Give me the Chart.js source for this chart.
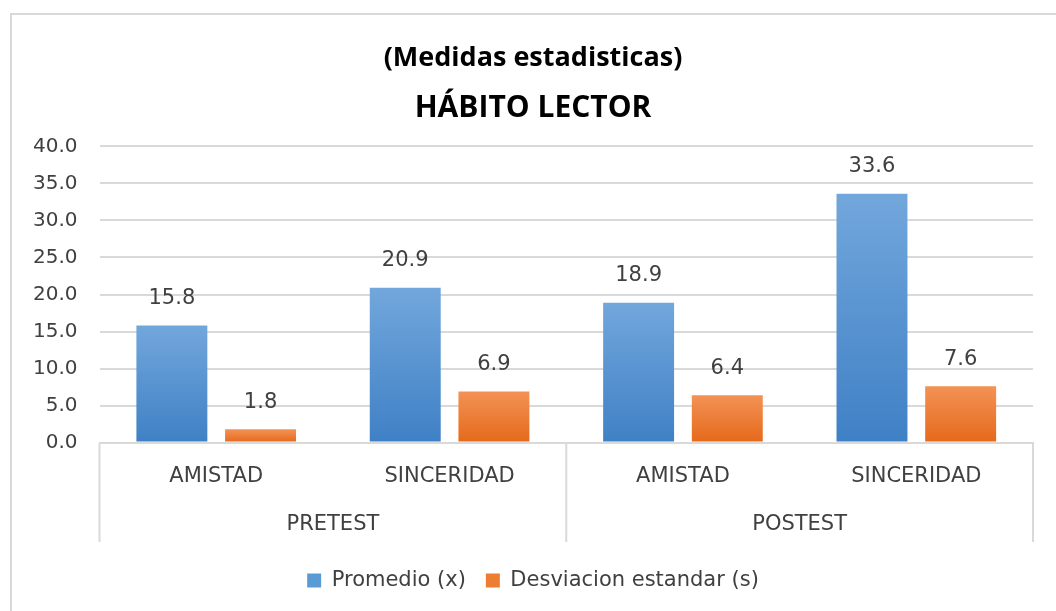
<!DOCTYPE html>
<html>
<head>
<meta charset="utf-8">
<script src="https://cdn.jsdelivr.net/npm/chart.js@4.4.1/dist/chart.umd.min.js"></script>
<style>
  html, body { margin:0; padding:0; background:#fff; }
  #frame { position:absolute; left:10px; top:13px; width:1100px; height:700px; border-top:2px solid #d9d9d9; border-left:2px solid #d9d9d9; }
  #wrap { position:absolute; left:0; top:0; width:1056px; height:611px; }
</style>
</head>
<body>
<div id="frame"></div>
<div id="wrap"><canvas id="chart"></canvas></div>
<script>
var categorias = ['AMISTAD', 'SINCERIDAD', 'AMISTAD', 'SINCERIDAD'];
var grupos = ['PRETEST', 'POSTEST'];
var promedio = [15.8, 20.9, 18.9, 33.6];
var desviacion = [1.8, 6.9, 6.4, 7.6];
var series = ['Promedio (x)', 'Desviacion estandar (s)'];

var $blue = '#5b9bd5',
    $orange = '#ed7d31',
    $text = '#404040',
    $grid = '#d9d9d9';

Chart.defaults.font.family = 'DejaVu Sans';
Chart.defaults.color = $text;

// gradient per bar, lighter on top
function barGradient(top, bottom) {
  return function (context) {
    var chart = context.chart;
    var y = chart.scales.y;
    if (!chart.chartArea || !y || context.raw === undefined) return bottom;
    var y0 = y.getPixelForValue(0);
    var y1 = y.getPixelForValue(context.raw);
    var g = chart.ctx.createLinearGradient(0, y1, 0, y0);
    g.addColorStop(0, top);
    g.addColorStop(1, bottom);
    return g;
  };
}

// values over bars
var valueLabels = {
  id: 'valueLabels',
  afterDatasetsDraw: function (chart) {
    var ctx = chart.ctx;
    ctx.save();
    ctx.font = '21px "DejaVu Sans"';
    ctx.fillStyle = $text;
    ctx.textAlign = 'center';
    ctx.textBaseline = 'middle';
    chart.data.datasets.forEach(function (ds, i) {
      chart.getDatasetMeta(i).data.forEach(function (bar, j) {
        ctx.fillText(ds.data[j].toFixed(1), bar.x, bar.y - 27);
      });
    });
    ctx.restore();
  }
};

// separator lines of the two-level category axis
var groupLines = {
  id: 'groupLines',
  afterDraw: function (chart) {
    var ctx = chart.ctx;
    var x2 = chart.scales.x2;
    var top = chart.chartArea.bottom;
    var bottom = x2.bottom - 8;
    var xs = [x2.left, x2.right];
    for (var i = 1; i < grupos.length; i++) {
      xs.push((x2.getPixelForValue(i - 1) + x2.getPixelForValue(i)) / 2);
    }
    ctx.save();
    ctx.strokeStyle = $grid;
    ctx.lineWidth = 2;
    xs.forEach(function (x) {
      ctx.beginPath();
      ctx.moveTo(x, top);
      ctx.lineTo(x, bottom);
      ctx.stroke();
    });
    ctx.restore();
  }
};

var chartData = {
  labels: categorias,
  datasets: [{
    label: series[0],
    data: promedio,
    backgroundColor: barGradient('#72a7dc', '#3f80c5'),
    categoryPercentage: 0.76,
    barPercentage: 0.8
  }, {
    label: series[1],
    data: desviacion,
    backgroundColor: barGradient('#f39255', '#e5691a'),
    categoryPercentage: 0.76,
    barPercentage: 0.8
  }]
};

var legendColors = [$blue, $orange];

var chartOptions = {
  responsive: true,
  maintainAspectRatio: false,
  animation: false,
  layout: { padding: { left: 33, right: 23, top: 0, bottom: 10 } },
  plugins: {
    title: {
      display: true,
      text: '(Medidas estadisticas)',
      color: '#000',
      font: { family: 'Open Sans', size: 27, weight: 'bold' },
      padding: { top: 42, bottom: 8 }
    },
    subtitle: {
      display: true,
      text: 'HÁBITO LECTOR',
      color: '#000',
      font: { family: 'Open Sans', size: 30, weight: 'bold' },
      padding: { top: 8, bottom: 20 }
    },
    legend: {
      position: 'bottom',
      labels: {
        boxWidth: 14,
        boxHeight: 14,
        padding: 20,
        color: $text,
        font: { size: 21 },
        generateLabels: function (chart) {
          var items = Chart.defaults.plugins.legend.labels.generateLabels(chart);
          items.forEach(function (it, i) {
            it.fillStyle = legendColors[i];
            it.strokeStyle = legendColors[i];
            it.lineWidth = 0;
          });
          return items;
        }
      }
    },
    tooltip: { enabled: false }
  },
  scales: {
    x: {
      grid: { display: false, drawTicks: false },
      border: { display: true, color: $grid, width: 2 },
      ticks: { padding: 21, color: $text, font: { size: 21 } }
    },
    x2: {
      type: 'category',
      labels: grupos,
      position: 'bottom',
      offset: true,
      weight: 1,
      grid: { display: false, drawTicks: false },
      border: { display: false },
      ticks: { padding: 2, color: $text, font: { size: 21 } },
      afterFit: function (scale) { scale.height += 11; }
    },
    y: {
      min: 0,
      max: 40,
      ticks: {
        stepSize: 5,
        padding: 22,
        color: $text,
        font: { size: 20 },
        callback: function (v) { return Number(v).toFixed(1); }
      },
      grid: { color: $grid, lineWidth: 2, drawTicks: false },
      border: { display: false },
      afterFit: function (scale) { scale.width -= 22; }
    }
  }
};

var chartConfig = {
  type: 'bar',
  data: chartData,
  options: chartOptions,
  plugins: [valueLabels, groupLines]
};

var habitoChart = new Chart(document.getElementById('chart'), chartConfig);
</script>
</body>
</html>
